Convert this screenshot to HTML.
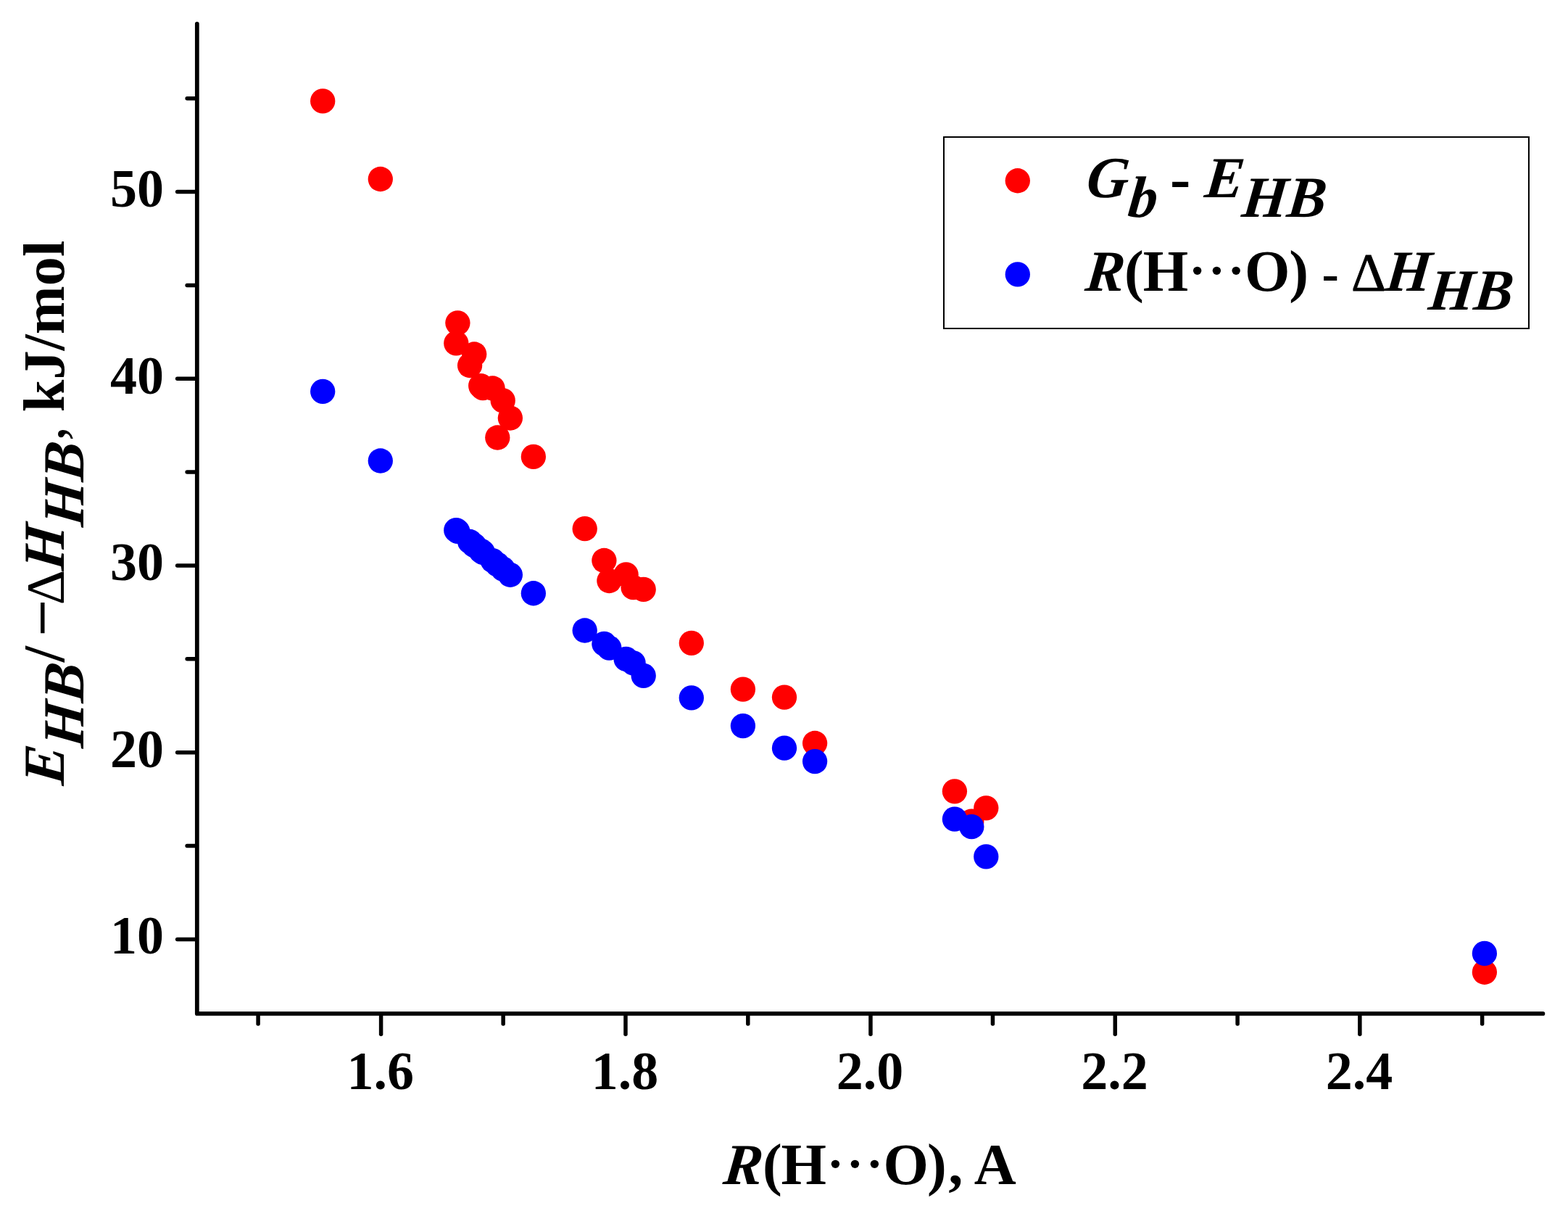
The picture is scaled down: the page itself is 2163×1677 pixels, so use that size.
<!DOCTYPE html>
<html lang="en"><head><meta charset="utf-8"><title>E_HB vs R(H...O)</title>
<style>
html,body{margin:0;padding:0;background:#fff;}
body{width:2163px;height:1677px;overflow:hidden;}
svg{display:block;}
text{font-family:"Liberation Serif","DejaVu Serif",serif;font-weight:bold;fill:#000;white-space:pre;}
.i{font-style:italic;}
.ax{stroke:#000;stroke-linecap:round;fill:none;}
</style></head><body>
<svg width="2163" height="1677" viewBox="0 0 2163 1677">
<rect x="0" y="0" width="2163" height="1677" fill="#fff"/>
<g fill="#ff0000">
<circle cx="445.2" cy="139.4" r="17.15"/>
<circle cx="524.8" cy="247" r="17.15"/>
<circle cx="631.4" cy="445.3" r="17.15"/>
<circle cx="629.3" cy="473.4" r="17.15"/>
<circle cx="654.2" cy="488.5" r="17.15"/>
<circle cx="648.1" cy="504" r="17.15"/>
<circle cx="663.2" cy="532.1" r="17.15"/>
<circle cx="666.1" cy="535.2" r="17.15"/>
<circle cx="679.6" cy="535.5" r="17.15"/>
<circle cx="693.7" cy="552.4" r="17.15"/>
<circle cx="703.87" cy="576.5" r="17.15"/>
<circle cx="686.3" cy="603.5" r="17.15"/>
<circle cx="735.85" cy="629.9" r="17.15"/>
<circle cx="806.7" cy="729.2" r="17.15"/>
<circle cx="833.4" cy="773" r="17.15"/>
<circle cx="840.4" cy="801" r="17.15"/>
<circle cx="863.6" cy="792.4" r="17.15"/>
<circle cx="873.6" cy="810.2" r="17.15"/>
<circle cx="887.7" cy="812.9" r="17.15"/>
<circle cx="953.8" cy="886.8" r="17.15"/>
<circle cx="1024.9" cy="950.6" r="17.15"/>
<circle cx="1082" cy="961.6" r="17.15"/>
<circle cx="1124.1" cy="1025" r="17.15"/>
<circle cx="1316.9" cy="1091.3" r="17.15"/>
<circle cx="1340.3" cy="1132.7" r="17.15"/>
<circle cx="1360.3" cy="1114.3" r="17.15"/>
<circle cx="2047.87" cy="1340.76" r="17.15"/>
</g>
<g fill="#0000ff">
<circle cx="445.2" cy="539.9" r="17.15"/>
<circle cx="524.8" cy="635.5" r="17.15"/>
<circle cx="631.4" cy="732.95" r="17.15"/>
<circle cx="629.3" cy="731.17" r="17.15"/>
<circle cx="654.2" cy="752.08" r="17.15"/>
<circle cx="648.1" cy="746.99" r="17.15"/>
<circle cx="663.2" cy="759.56" r="17.15"/>
<circle cx="666.1" cy="761.95" r="17.15"/>
<circle cx="679.6" cy="773.06" r="17.15"/>
<circle cx="693.7" cy="784.55" r="17.15"/>
<circle cx="703.87" cy="792.77" r="17.15"/>
<circle cx="686.3" cy="778.53" r="17.15"/>
<circle cx="735.85" cy="818.24" r="17.15"/>
<circle cx="806.7" cy="869.5" r="17.15"/>
<circle cx="833.4" cy="887.9" r="17.15"/>
<circle cx="840.4" cy="893.7" r="17.15"/>
<circle cx="863.6" cy="908.9" r="17.15"/>
<circle cx="873.6" cy="914.4" r="17.15"/>
<circle cx="887.7" cy="931.9" r="17.15"/>
<circle cx="953.8" cy="962.4" r="17.15"/>
<circle cx="1024.9" cy="1001.1" r="17.15"/>
<circle cx="1082" cy="1031.7" r="17.15"/>
<circle cx="1124.1" cy="1050.1" r="17.15"/>
<circle cx="1316.9" cy="1129.7" r="17.15"/>
<circle cx="1340.3" cy="1140.2" r="17.15"/>
<circle cx="1360.3" cy="1181.4" r="17.15"/>
<circle cx="2047.87" cy="1314.9" r="17.15"/>
</g>
<polyline class="ax" stroke-width="5.77" stroke-linejoin="round" points="271.83,32.9 271.83,1397.97 2128.4,1397.97"/>
<g class="ax" stroke-width="5.5">
<line x1="356.08" y1="1398.47" x2="356.08" y2="1412.07"/>
<line x1="525.6" y1="1398.47" x2="525.6" y2="1426.17"/>
<line x1="694.15" y1="1398.47" x2="694.15" y2="1412.07"/>
<line x1="862.97" y1="1398.47" x2="862.97" y2="1426.17"/>
<line x1="1031.8" y1="1398.47" x2="1031.8" y2="1412.07"/>
<line x1="1200.95" y1="1398.47" x2="1200.95" y2="1426.17"/>
<line x1="1369.45" y1="1398.47" x2="1369.45" y2="1412.07"/>
<line x1="1538.28" y1="1398.47" x2="1538.28" y2="1426.17"/>
<line x1="1707.1" y1="1398.47" x2="1707.1" y2="1412.07"/>
<line x1="1875.84" y1="1398.47" x2="1875.84" y2="1426.17"/>
<line x1="2044.63" y1="1398.47" x2="2044.63" y2="1412.07"/>
<line x1="244.63" y1="1295.39" x2="271.33" y2="1295.39"/>
<line x1="258.13" y1="1166.54" x2="271.33" y2="1166.54"/>
<line x1="244.63" y1="1037.68" x2="271.33" y2="1037.68"/>
<line x1="258.13" y1="908.83" x2="271.33" y2="908.83"/>
<line x1="244.63" y1="779.97" x2="271.33" y2="779.97"/>
<line x1="258.13" y1="651.12" x2="271.33" y2="651.12"/>
<line x1="244.63" y1="522.26" x2="271.33" y2="522.26"/>
<line x1="258.13" y1="393.41" x2="271.33" y2="393.41"/>
<line x1="244.63" y1="264.55" x2="271.33" y2="264.55"/>
<line x1="258.13" y1="135.7" x2="271.33" y2="135.7"/>
</g>
<g font-size="74">
<text x="524.7" y="1502" text-anchor="middle">1.6</text>
<text x="862.07" y="1502" text-anchor="middle">1.8</text>
<text x="1200.05" y="1502" text-anchor="middle">2.0</text>
<text x="1537.38" y="1502" text-anchor="middle">2.2</text>
<text x="1874.94" y="1502" text-anchor="middle">2.4</text>
<text x="225.9" y="1315.22" text-anchor="end">10</text>
<text x="225.9" y="1058.14" text-anchor="end">20</text>
<text x="225.9" y="800.21" text-anchor="end">30</text>
<text x="225.9" y="543.14" text-anchor="end">40</text>
<text x="225.9" y="285.22" text-anchor="end">50</text>
</g>
<g font-size="80.3">
<text transform="translate(996.2,1633) skewX(-6)" class="i">R</text>
<text y="1633"><tspan x="1052 1077.44">(H</tspan><tspan font-size="70" x="1140.63 1167.73 1194.63" dy="-4.82 0 0">···</tspan><tspan x="1218.54 1279" dy="4.82 0">O)</tspan><tspan x="1308.14">, A</tspan></text>
</g>
<g font-size="80.3">
<text transform="translate(88.3,1084.1) rotate(-90) skewX(-6)" class="i">E</text>
<text transform="translate(114.6,1032.4) rotate(-90) skewX(-6)" class="i">HB</text>
<text transform="translate(88.3,913.3) rotate(-90)">/ </text>
<text transform="translate(88.3,876.65) rotate(-90)" style="font-weight:normal" font-size="88" stroke="#000" stroke-width="1.1">−</text>
<text transform="translate(88.3,834.25) rotate(-90)" style="font-weight:normal" font-size="75">Δ</text>
<text transform="translate(88.3,788.3) rotate(-90) skewX(-6)" class="i">H</text>
<text transform="translate(114.6,727.4) rotate(-90) skewX(-6)" class="i">HB</text>
<text transform="translate(88.3,607.95) rotate(-90)" style="font-weight:normal">, </text>
<text transform="translate(88.3,568.25) rotate(-90)">kJ/mol</text>
</g>
<rect x="1302" y="189" width="807" height="264" fill="#fff" stroke="#000" stroke-width="2"/>
<circle cx="1403.79" cy="249.26" r="17.15" fill="#ff0000"/>
<circle cx="1403.79" cy="378.4" r="17.15" fill="#0000ff"/>
<g font-size="80.3">
<text transform="translate(1497.1,272) skewX(-6)" class="i">G</text>
<text transform="translate(1554.4,298.8) skewX(-6)" class="i">b</text>
<text x="1592.69" y="274.4" font-size="85"> - </text>
<text transform="translate(1660.25,272) skewX(-6)" class="i">E</text>
<text transform="translate(1711.4,298.8) skewX(-6)" class="i">HB</text>
</g>
<g font-size="80.3">
<text transform="translate(1495.6,400.8) skewX(-6)" class="i">R</text>
<text y="400.8"><tspan x="1550.9 1576.64">(H</tspan><tspan font-size="70" x="1639.93 1666.83 1693.43" dy="-4.82 0 0">···</tspan><tspan x="1717.04 1778.2" dy="4.82 0">O)</tspan></text>
<text x="1805.89" y="401.45" font-size="70"> - </text>
<text x="1863.9" y="400.6" style="font-weight:normal" font-size="74.5" stroke="#000" stroke-width="0.8">Δ</text>
<text transform="translate(1909.6,400.8) skewX(-6)" class="i">H</text>
<text transform="translate(1969,426.9) skewX(-6)" class="i">HB</text>
</g>
</svg></body></html>
